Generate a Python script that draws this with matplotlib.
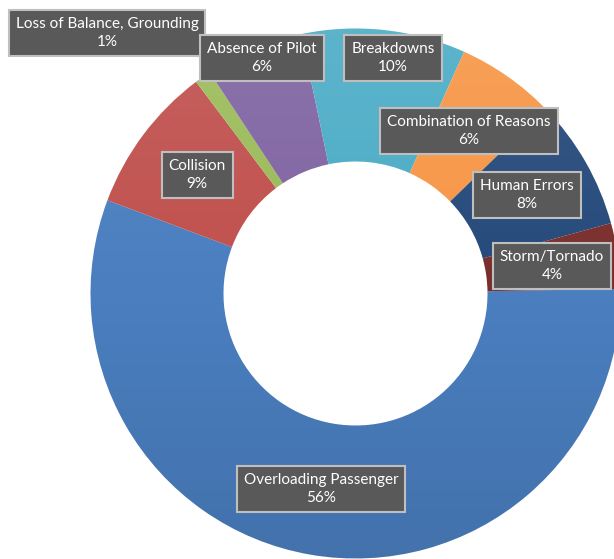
import matplotlib
matplotlib.use("Agg")
import matplotlib.pyplot as plt
import numpy as np

# data
causes = ["Overloading Passenger", "Collision", "Loss of Balance, Grounding",
          "Absence of Pilot", "Breakdowns", "Combination of Reasons",
          "Human Errors", "Storm/Tornado"]
percents = [56, 9, 1, 6, 10, 6, 8, 4]
colors = ["#4A7EBF", "#C0504D", "#9BBB59", "#8064A2", "#4BACC6", "#F79646",
          "#24497A", "#7A2E2C"]

# label box centres in pixels (x from left, y from top)
label_pos = [(321, 489), (197, 175), (107, 33), (262, 58), (393, 58),
             (469, 131), (527, 195), (552, 266)]

W, H = 614, 559
fig = plt.figure(figsize=(W / 100, H / 100), dpi=100)
ax = fig.add_axes([0, 0, 1, 1])

cx, cy = 355.5, H - 293.5
R = 265
wedges, _ = ax.pie(percents, colors=colors, radius=R, center=(cx, cy),
                   startangle=1, counterclock=False, frame=True,
                   wedgeprops=dict(width=133, linewidth=0))
ax.set_xlim(0, W)
ax.set_ylim(0, H)
ax.set_aspect("equal")
ax.axis("off")

# soft vertical shading like the office gradient fill (lighter top, darker bottom)
t = np.linspace(0, 1, 256)
shade = np.zeros((256, 1, 4))
shade[:, 0, :3] = np.where(t < 0.5, 0.0, 1.0)[:, None]
shade[:, 0, 3] = np.abs(t - 0.5) * 0.2
for w in wedges:
    im = ax.imshow(shade, extent=(cx - R, cx + R, cy - R, cy + R),
                   aspect="auto", origin="lower", zorder=w.get_zorder() + 0.1)
    im.set_clip_path(w)
ax.set_xlim(0, W)
ax.set_ylim(0, H)

for name, pct, (px, py) in zip(causes, percents, label_pos):
    ax.text(px, H - py, f"{name}\n{pct}%", ha="center", va="center",
            color="white", fontsize=11, family=["Lato", "DejaVu Sans"],
            linespacing=1.4, zorder=5,
            bbox=dict(boxstyle="square,pad=0.45", fc="#595959", ec="#BFBFBF", lw=1.5))

fig.savefig("out.png", dpi=100)
